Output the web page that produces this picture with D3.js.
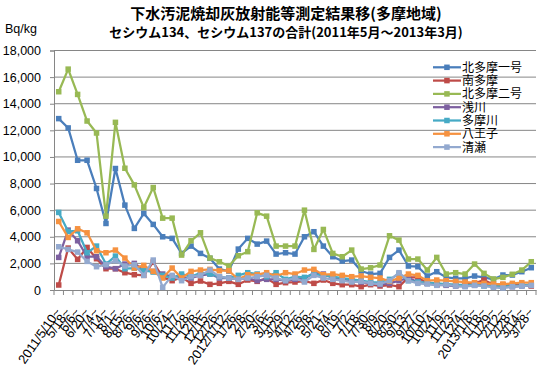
<!DOCTYPE html>
<html>
<head>
<meta charset="utf-8">
<script src="https://cdn.jsdelivr.net/npm/d3@7"></script>
<style>
  body { margin: 0; background: #fff; }
  svg text { font-family: "Liberation Sans", Arial, sans-serif; }
</style>
</head>
<body>
<svg width="548" height="368"></svg>
<script>
// カテゴリ（採取日）
const categories = [
  '2011/5/10~','5/18~','6/6~','6/20~','7/4~','7/14~','8/1~','8/15~','8/26~','9/6~',
  '9/26~','10/6~','10/24~','11/7~','11/28~','12/8~','12/15~','12/26~',
  '2012/1/12~','1/26~','2/8~','2/20~','3/6~','3/15~','3/29~','4/12~','4/26~','5/8~',
  '5/21~','6/4~','6/19~','7/2~','7/18~','7/30~','8/9~','8/20~','8/30~','9/13~','9/27~',
  '10/10~','10/24~','11/9~','11/23~','12/4~',
  '2013/1/8~','1/18~','1/29~','2/12~','2/28~','3/14~','3/28~'
];

// 各施設の測定値 (Bq/kg)
const kitatama1 = [12880,12180,9750,9750,7630,5000,9130,6380,4630,5750,4930,4000,3880,2750,3300,
  2750,2380,1575,1425,3075,3880,3450,3675,2700,2800,2700,4000,4380,3300,2500,2175,2250,1425,1200,1250,
  2450,3000,1800,1750,1050,1375,950,875,875,1050,950,800,1125,1125,1375,1675];
const minamitama = [375,3150,2300,3200,2350,1600,1600,1300,1150,1100,2100,950,700,950,500,
  675,425,500,650,425,750,650,875,425,550,600,675,500,750,500,400,400,250,400,300,
  375,250,950,950,500,375,400,350,400,500,750,400,400,350,400,300];
const kitatama2 = [14900,16600,14700,12700,11800,5550,12600,9150,7900,6200,7700,5400,5400,2625,3700,
  4300,2400,2120,1800,2575,2880,5800,5550,3300,3300,3300,6000,3050,4550,2750,2500,3000,1575,1670,1875,
  4075,3750,2325,2325,1500,2450,1200,1300,1200,1950,1250,825,950,1180,1500,2125];
const asakawa = [2450,4500,3700,2500,2500,1750,1600,1950,2000,1500,1400,1200,1000,950,900,
  1100,1200,900,900,800,900,700,800,800,700,800,850,1300,1200,900,800,700,600,500,400,
  500,700,900,600,500,400,350,300,300,350,400,300,200,250,300,350];
const tamagawa = [5830,4400,4450,2800,3300,1950,2550,1600,1650,1500,1350,1100,900,1200,1000,
  1300,1200,1000,900,1100,1300,1200,1000,1300,800,1000,950,1200,1100,1000,900,800,700,600,550,
  800,1200,700,600,550,500,450,400,350,400,300,300,250,300,350,400];
const hachioji = [5150,3950,4600,4300,2950,2800,3000,2400,1650,1850,1400,900,1650,900,1400,
  1500,1550,1450,1450,800,1150,1150,1300,1050,1300,1200,1500,1550,1150,1200,1100,1000,1050,950,900,
  650,900,1200,1100,700,750,700,650,600,550,500,450,450,500,550,550];
const kiyose = [3250,3050,2850,2150,1750,1900,2200,1800,1900,1100,2250,200,1100,700,1000,
  1100,1500,1000,900,800,900,1000,1100,900,700,900,600,1100,900,800,700,600,650,500,450,
  700,1300,700,500,450,350,400,300,250,350,300,200,150,250,300,350];

const yTicks = [0,2000,4000,6000,8000,10000,12000,14000,16000,18000];

const series = [
  {name: '北多摩一号', values: kitatama1, color: '#4A7EBB'},
  {name: '南多摩',     values: minamitama, color: '#BE4B48'},
  {name: '北多摩二号', values: kitatama2, color: '#98B954'},
  {name: '浅川',       values: asakawa, color: '#7D60A0'},
  {name: '多摩川',     values: tamagawa, color: '#46AAC5'},
  {name: '八王子',     values: hachioji, color: '#F69240'},
  {name: '清瀬',       values: kiyose, color: '#93A9CF'}
];

const svg = d3.select('svg');
const plotLeft = 54, plotRight = 536, plotTop = 50.5, plotBottom = 290;

const x = d3.scaleBand()
  .domain(d3.range(categories.length))
  .range([plotLeft, plotRight]);
const y = d3.scaleLinear()
  .domain([0, 18000])
  .range([plotBottom, plotTop]);

// グリッド線
svg.append('g')
  .selectAll('line')
  .data(yTicks.filter(d => d > 0))
  .join('line')
  .attr('x1', plotLeft).attr('x2', plotRight)
  .attr('y1', d => y(d)).attr('y2', d => y(d))
  .attr('stroke', '#868686').attr('stroke-width', 1);

// Y軸
const yAxis = svg.append('g')
  .attr('transform', `translate(${plotLeft},0)`)
  .call(d3.axisLeft(y).tickValues(yTicks).tickSize(4).tickPadding(9)
    .tickFormat(d3.format(',')));
yAxis.select('.domain').attr('stroke', '#868686');
yAxis.selectAll('.tick line').attr('stroke', '#868686');
yAxis.selectAll('text').attr('font-size', 12.5).attr('fill', '#000');

// X軸
const xAxis = svg.append('g')
  .attr('transform', `translate(0,${plotBottom})`)
  .call(d3.axisBottom(x).tickSize(0).tickPadding(0).tickFormat(i => categories[i]));
xAxis.select('.domain').attr('stroke', '#868686');
xAxis.selectAll('text')
  .attr('font-size', 13)
  .attr('fill', '#000')
  .attr('text-anchor', 'end')
  .attr('dy', 0)
  .attr('transform', 'translate(3,22) rotate(-55)');

// 目盛り（カテゴリ境界）
svg.append('g')
  .selectAll('line')
  .data(d3.range(categories.length + 1))
  .join('line')
  .attr('x1', i => plotLeft + i * x.step()).attr('x2', i => plotLeft + i * x.step())
  .attr('y1', plotBottom).attr('y2', plotBottom + 5)
  .attr('stroke', '#868686');

// 折れ線
const line = d3.line()
  .x((d, i) => x(i) + x.bandwidth() / 2)
  .y(d => y(d));

series.forEach(s => {
  const g = svg.append('g');
  g.append('path')
    .datum(s.values)
    .attr('fill', 'none')
    .attr('stroke', s.color)
    .attr('stroke-width', 2.25)
    .attr('stroke-linejoin', 'round')
    .attr('d', line);
  g.selectAll('rect')
    .data(s.values)
    .join('rect')
    .attr('x', (d, i) => x(i) + x.bandwidth() / 2 - 2.75)
    .attr('y', d => y(d) - 2.75)
    .attr('width', 5.5).attr('height', 5.5)
    .attr('fill', s.color);
});

// 凡例
const legend = svg.append('g');
series.forEach((s, i) => {
  const ly = 67.3 + i * 13.3;
  legend.append('line')
    .attr('x1', 433).attr('x2', 461)
    .attr('y1', ly).attr('y2', ly)
    .attr('stroke', s.color).attr('stroke-width', 2.25);
  legend.append('rect')
    .attr('x', 444.2).attr('y', ly - 2.75)
    .attr('width', 5.5).attr('height', 5.5)
    .attr('fill', s.color);
  legend.append('text')
    .attr('x', 462).attr('y', ly + 4.5)
    .attr('font-size', 12)
    .style('font-family', '"Noto Sans CJK JP", sans-serif')
    .text(s.name);
});

// タイトル
svg.append('text')
  .attr('x', 286).attr('y', 19)
  .attr('text-anchor', 'middle')
  .attr('font-size', 15).attr('font-weight', 'bold')
  .style('font-family', '"Noto Sans CJK JP", sans-serif')
  .text('下水汚泥焼却灰放射能等測定結果移(多摩地域)');
svg.append('text')
  .attr('x', 286).attr('y', 37)
  .attr('text-anchor', 'middle')
  .attr('font-size', 13).attr('font-weight', 'bold')
  .style('font-family', '"Noto Sans CJK JP", sans-serif')
  .text('セシウム134、セシウム137の合計(2011年5月～2013年3月)');

// 単位
svg.append('text')
  .attr('x', 5).attr('y', 33)
  .attr('font-size', 12.5)
  .text('Bq/kg');
</script>
</body>
</html>
